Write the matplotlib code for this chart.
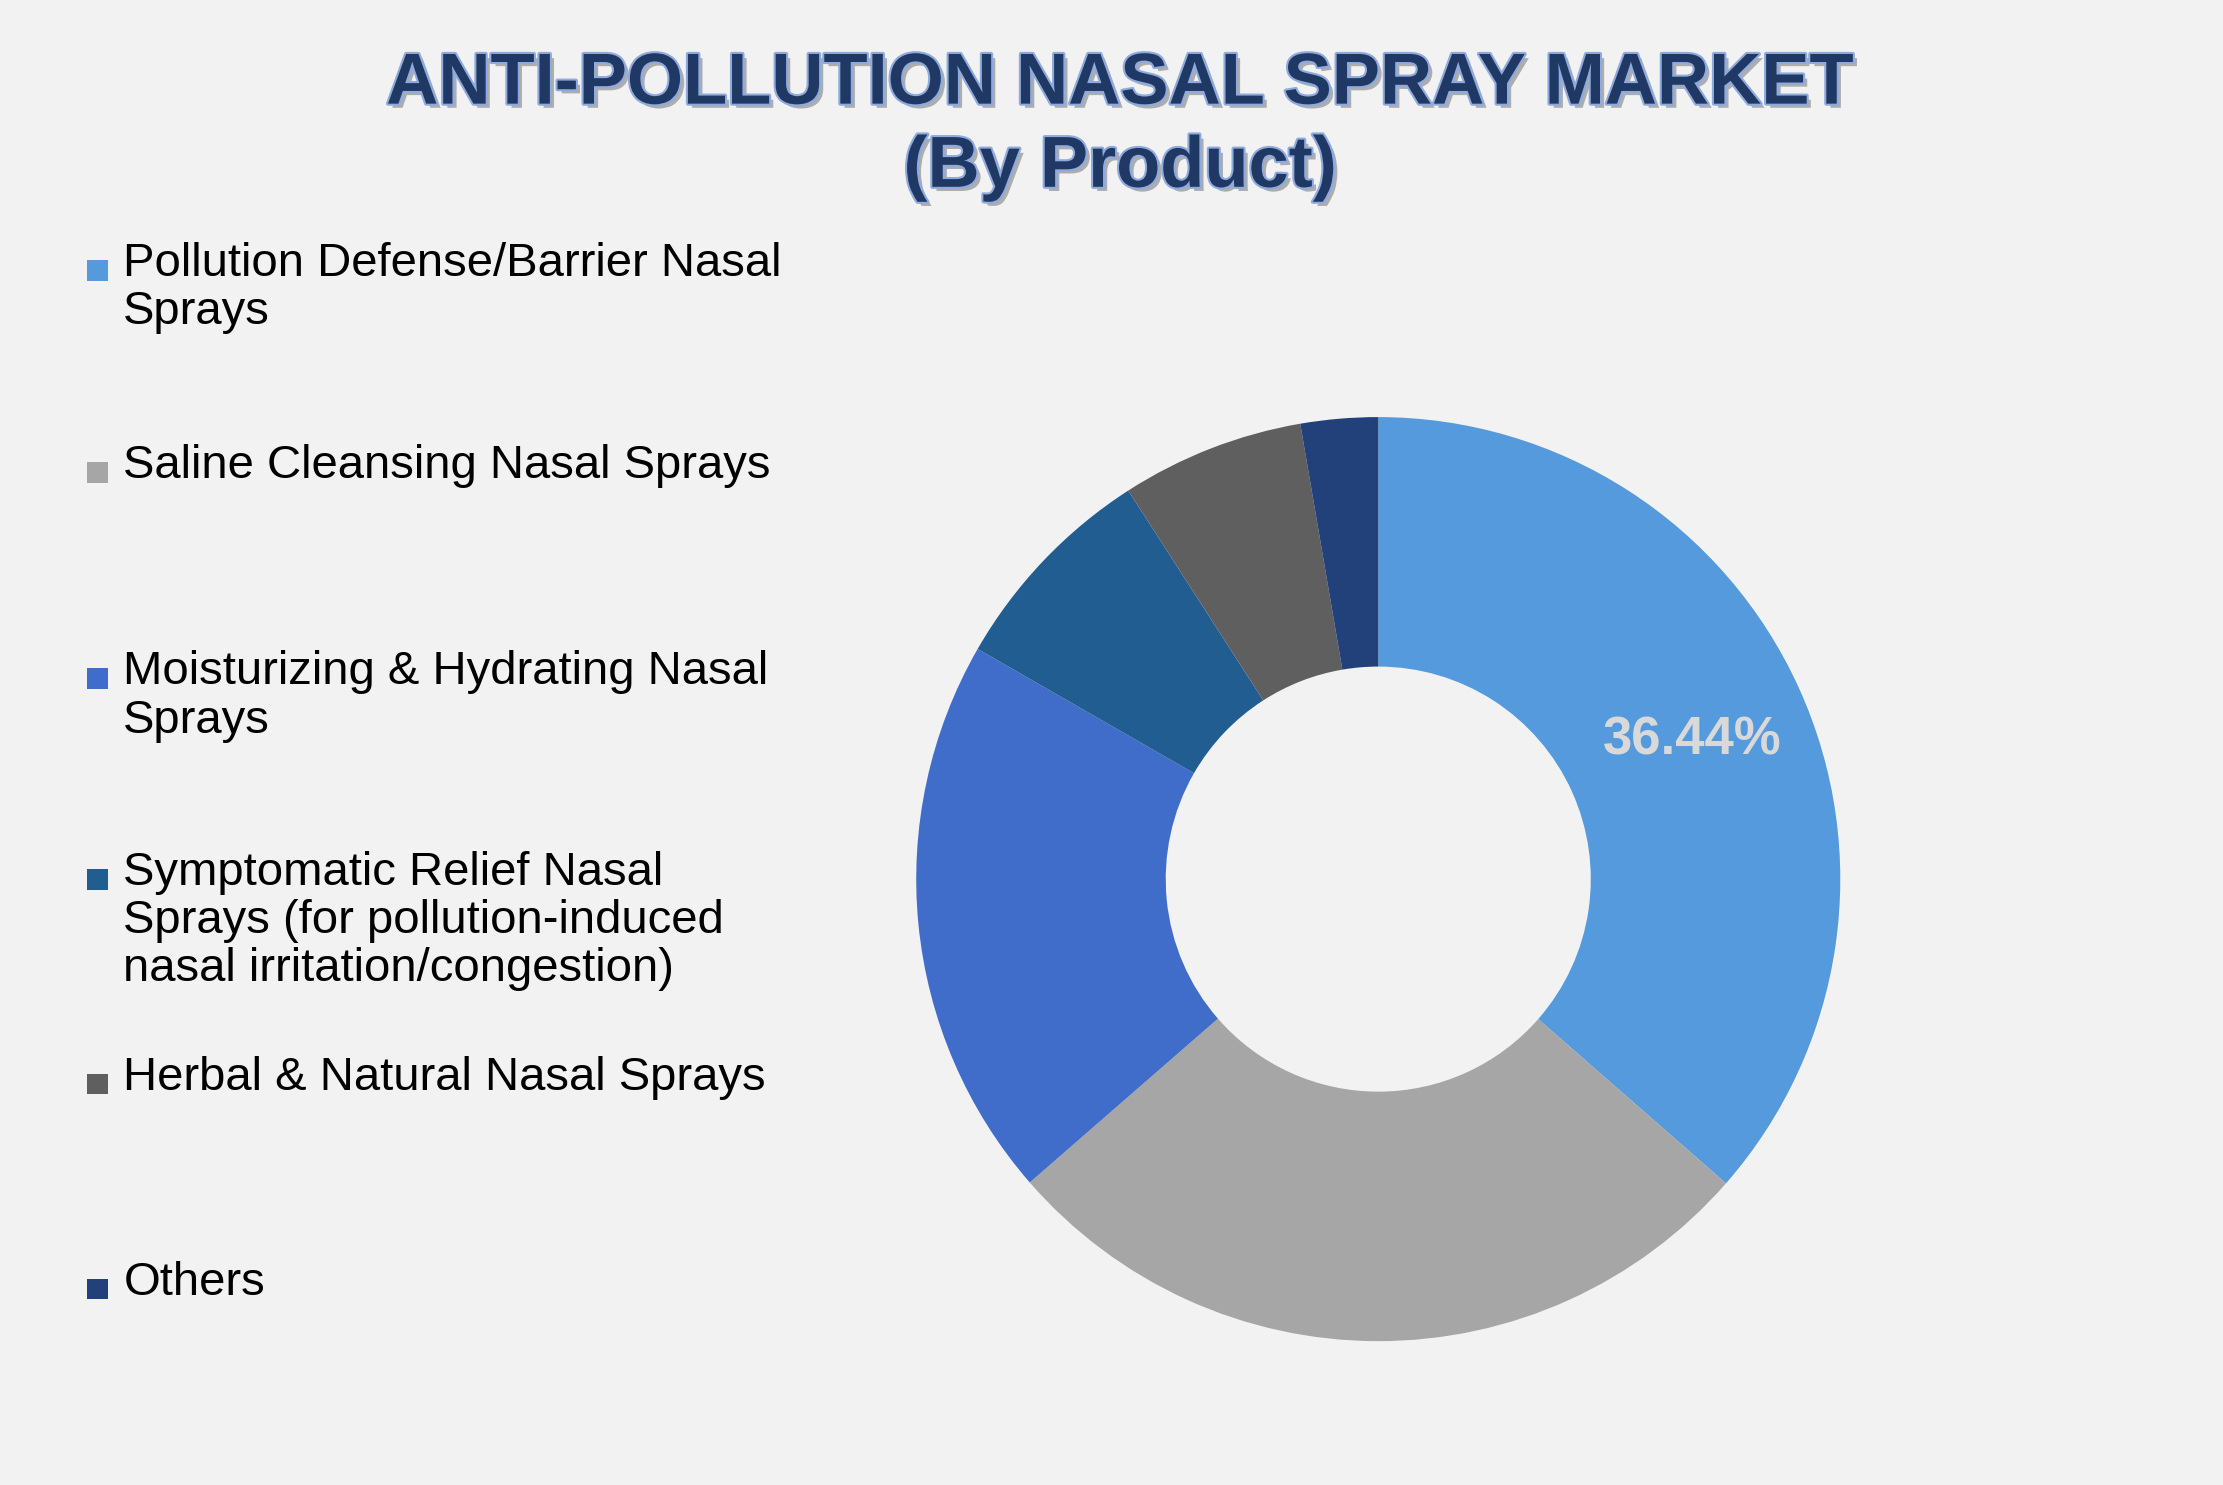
import matplotlib
matplotlib.use("Agg")
import matplotlib.pyplot as plt
import matplotlib.patheffects as pe
from matplotlib.patches import Rectangle

categories = ["Pollution Defense/Barrier Nasal\nSprays", "Saline Cleansing Nasal Sprays",
              "Moisturizing & Hydrating Nasal\nSprays",
              "Symptomatic Relief Nasal\nSprays (for pollution-induced\nnasal irritation/congestion)",
              "Herbal & Natural Nasal Sprays", "Others"]
values = [36.44, 27.16, 19.7, 7.6, 6.4, 2.7]
colors = ["#559ADC", "#A6A6A6", "#3F6DC9", "#225D92", "#5F5F5F", "#22407A"]
legend_y = [0.818, 0.682, 0.543, 0.408, 0.270, 0.132]

plt.rcParams['font.family'] = ['Liberation Sans', 'DejaVu Sans']
fig = plt.figure(figsize=(22.23, 14.85), dpi=100)
fig.patch.set_facecolor("#F2F2F2")
ax = fig.add_axes([0.408, 0.09, 0.424, 0.636])
ax.set_facecolor("#F2F2F2")
wedges, _ = ax.pie(values, colors=colors, startangle=90, counterclock=False,
                   radius=1, wedgeprops=dict(width=0.54, linewidth=0))
ax.set_aspect("equal")
ax.set_xlim(-1.02, 1.02); ax.set_ylim(-1.02, 1.02)
ax.text(0.68, 0.30, f"{values[0]:.2f}%", ha="center", va="center", fontsize=38,
        fontweight="bold", color="#D9D9D9")

for t, txt in [(0.943, "ANTI-POLLUTION NASAL SPRAY MARKET"), (0.887, "(By Product)")]:
    fig.text(0.504, t, txt, ha="center", va="center", fontsize=52, fontweight="bold",
             color="#1F3864",
             path_effects=[pe.withSimplePatchShadow(offset=(3, -3), shadow_rgbFace="#7F7F7F", alpha=0.6),
                           pe.withStroke(linewidth=3, foreground="#8FAADC")])

for lab, c, y in zip(categories, colors, legend_y):
    fig.patches.append(Rectangle((0.039, y - 0.007), 0.0095, 0.014, transform=fig.transFigure,
                                 facecolor=c, edgecolor="none"))
    fig.text(0.0555, y + 0.019, lab, ha="left", va="top", fontsize=34, color="#000000",
             linespacing=1.12)

fig.savefig("out.png", dpi=100, facecolor=fig.get_facecolor())
